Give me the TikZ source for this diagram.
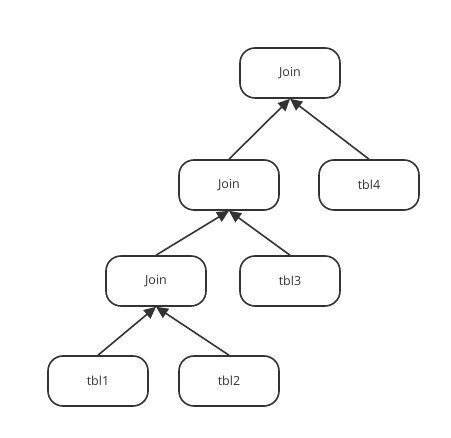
\documentclass[tikz,border=0pt]{standalone}
\usepackage{fontspec}
\setmainfont{Open Sans}
\usetikzlibrary{arrows.meta}
\definecolor{ink}{HTML}{333333}
\begin{document}
\begin{tikzpicture}[x=1pt,y=-1pt,
  box/.style={draw=ink, line width=1.6pt, rounded corners=15pt, minimum width=100pt, minimum height=50pt, inner sep=0pt, text=ink, font=\fontsize{12.5}{14}\selectfont},
  edge/.style={draw=ink, line width=1.6pt, -{Triangle[length=12pt,width=11pt]}}]
\useasboundingbox (0,0) rectangle (451,438);
\node[box] (j1) at (290,73) {Join};
\node[box] (j2) at (229,185) {Join};
\node[box] (t4) at (369,185) {tbl4};
\node[box] (j3) at (156,281) {Join};
\node[box] (t3) at (290,281) {tbl3};
\node[box] (t1) at (98,381) {tbl1};
\node[box] (t2) at (229,381) {tbl2};
\draw[edge] (j2.north) -- (j1.south);
\draw[edge] (t4.north) -- (j1.south);
\draw[edge] (j3.north) -- (j2.south);
\draw[edge] (t3.north) -- (j2.south);
\draw[edge] (t1.north) -- (j3.south);
\draw[edge] (t2.north) -- (j3.south);
\end{tikzpicture}
\end{document}
